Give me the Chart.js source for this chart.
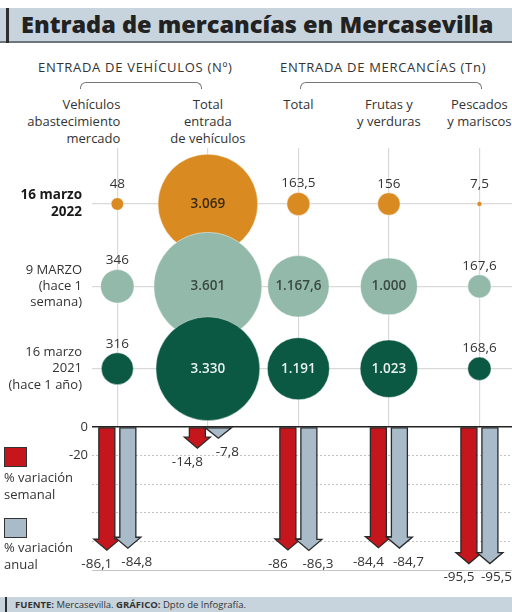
<!DOCTYPE html>
<html>
<head>
<meta charset="utf-8">
<script src="https://cdn.jsdelivr.net/npm/chart.js@4.4.1/dist/chart.umd.min.js"></script>
<style>
  body { margin: 0; background: #fff; font-family: "Open Sans", sans-serif; color: #333; }
  #page { position: relative; width: 512px; height: 612px; overflow: hidden; background: #fff; }
  .band { position: absolute; left: 0; width: 512px; background: #c8d4dd; }
  .bandbar { position: absolute; background: #2e2e2e; }
  #title { top: 8px; height: 33px; border-bottom: 2px solid #6f767b; }
  #title span { position: absolute; left: 21px; top: 0; line-height: 33px; font-size: 23.5px; font-weight: 800; color: #222; white-space: nowrap; }
  .sub { position: absolute; top: 58px; font-size: 13px; white-space: nowrap; letter-spacing: 0.7px; }
  .bracket { position: absolute; top: 82px; height: 6px; border: 1px solid #777; border-bottom: none; border-radius: 6px 6px 0 0; }
  .colhead { position: absolute; top: 96px; font-size: 13px; line-height: 17px; white-space: nowrap; }
  .chartbox { position: absolute; left: 0; }
  .leg-sq { position: absolute; left: 4px; width: 23px; height: 20px; border: 1.5px solid #333; box-sizing: border-box; }
  .leg-tx { position: absolute; left: 4px; font-size: 13px; line-height: 17px; white-space: nowrap; }
  #foot { top: 597px; height: 15px; }
  #foot span { position: absolute; left: 15px; top: 0; line-height: 15px; font-size: 9.5px; color: #333; white-space: nowrap; }
</style>
</head>
<body>
<div id="page">
  <div class="band" id="title"><span>Entrada de mercancías en Mercasevilla</span></div>
  <div class="bandbar" style="left:6px;top:8px;width:3px;height:35px"></div>

  <div class="sub" id="subVeh"></div>
  <div class="sub" id="subMer"></div>
  <div class="bracket" style="left:80px;width:120px"></div>
  <div class="bracket" style="left:300px;width:180px"></div>

  <div class="chartbox" style="top:148px"><canvas id="bubbles" width="512" height="280"></canvas></div>
  <div class="chartbox" style="top:415px"><canvas id="bars" width="512" height="185"></canvas></div>

  <div class="leg-sq" id="sq0" style="top:447px"></div>
  <div class="leg-tx" id="tx0" style="top:469px"></div>
  <div class="leg-sq" id="sq1" style="top:518px"></div>
  <div class="leg-tx" id="tx1" style="top:539px"></div>

  <div class="band" id="foot"><span><b>FUENTE:</b> Mercasevilla. <b>GRÁFICO:</b> Dpto de Infografía.</span></div>
  <div class="bandbar" style="left:5px;top:597px;width:2px;height:15px"></div>
</div>

<script>
// groups and categories
const groups = ['ENTRADA DE VEHÍCULOS (Nº)', 'ENTRADA DE MERCANCÍAS (Tn)'];
const columns = [
  ['Vehículos', 'abastecimiento', 'mercado'],
  ['Total', 'entrada', 'de vehículos'],
  ['Total'],
  ['Frutas y', 'y verduras'],
  ['Pescados', 'y mariscos']
];
const rows = [
  ['16 marzo', '2022'],
  ['9 MARZO', '(hace 1', 'semana)'],
  ['16 marzo', '2021', '(hace 1 año)']
];

// values per row
const mar2022 = [48, 3069, 163.5, 156, 7.5];
const mar2022wk = [346, 3601, 1167.6, 1000, 167.6];
const mar2021 = [316, 3330, 1191, 1023, 168.6];

// % variation
const seriesNames = ['% variación semanal', '% variación anual'];
const varSemanal = [-86.1, -14.8, -86, -84.4, -95.5];
const varAnual = [-84.8, -7.8, -86.3, -84.7, -95.5];
const varTicks = [0, -20, -40, -60, -80, -100];
const varLabelled = [0, -20];

const rowColors = ['#d98b22', '#92b9aa', '#0b5843'];
const rowTextColors = ['#3a2a12', '#3b4944', '#e9f1ed'];
const arrowColors = ['#c5161d', '#a9bac8'];

const xMin = -0.28, xMax = 4.36;
const axisW = 92;

function fmt(v) {
    const [i, d] = String(Math.abs(v)).split('.');
    const s = i.replace(/\B(?=(\d{3})+(?!\d))/g, '.');
    return (v < 0 ? '-' : '') + s + (d ? ',' + d : '');
}

document.getElementById('subVeh').textContent = groups[0];
document.getElementById('subMer').textContent = groups[1];
document.getElementById('subVeh').style.left = '38px';
document.getElementById('subMer').style.left = '280px';

[0, 1].forEach(i => {
    document.getElementById('sq' + i).style.background = arrowColors[i];
    document.getElementById('tx' + i).innerHTML = seriesNames[i].replace(/ (\S+)$/, '<br>$1');
});

const bubbleLabels = {
    id: 'bubbleLabels',
    afterDatasetsDraw(chart) {
        const ctx = chart.ctx;
        chart.data.datasets.forEach((ds, di) => {
            chart.getDatasetMeta(di).data.forEach((el, i) => {
                const r = el.options.radius;
                const v = ds.data[i].v;
                ctx.save();
                ctx.textAlign = 'center';
                ctx.textBaseline = 'middle';
                if (r > 20) {
                    ctx.font = '600 13.5px "Open Sans"';
                    ctx.fillStyle = ds.textColor;
                    ctx.fillText(fmt(v), el.x, el.y);
                } else {
                    ctx.font = '13.5px "Open Sans"';
                    ctx.fillStyle = '#333';
                    ctx.fillText(fmt(v), el.x, el.y - Math.max(r + 9, 20));
                }
                ctx.restore();
            });
        });
    }
};

const rowData = [mar2022, mar2022wk, mar2021];
const bubbleChart = new Chart(document.getElementById('bubbles'), {
    type: 'bubble',
    data: {
        datasets: rowData.map((vals, ri) => ({
            label: rows[ri].join(' '),
            data: vals.map((v, i) => ({ x: i, y: ri, v })),
            backgroundColor: rowColors[ri],
            borderColor: 'rgba(255,255,255,0.45)',
            borderWidth: 1,
            textColor: rowTextColors[ri],
            order: 3 - ri,
            clip: false,
            radius: c => 0.9 * Math.sqrt(c.raw.v)
        }))
    },
    options: {
        responsive: false,
        animation: false,
        events: [],
        layout: { padding: 0, autoPadding: false },
        plugins: { legend: { display: false }, tooltip: { enabled: false } },
        scales: {
            x: {
                type: 'linear', min: xMin, max: xMax, offset: false,
                afterBuildTicks: s => { s.ticks = columns.map((c, i) => ({ value: i })); },
                ticks: { display: false },
                grid: { color: '#d9d9d9', lineWidth: 1.2, drawTicks: false },
                border: { display: false }
            },
            y: {
                type: 'linear', min: -0.68, max: 2.72, reverse: true, offset: false,
                afterBuildTicks: s => { s.ticks = rows.map((r, i) => ({ value: i })); },
                afterFit: s => { s.width = axisW; s.paddingTop = 0; s.paddingBottom = 0; },
                ticks: {
                    callback: v => rows[v],
                    padding: 10,
                    color: c => c.index === 0 ? '#1a1a1a' : '#333',
                    font: c => ({ family: 'Open Sans', size: c.index === 0 ? 13.5 : 13, weight: c.index === 0 ? 'bold' : 'normal', lineHeight: 1.25 })
                },
                grid: { color: '#d9d9d9', lineWidth: 1.2, drawTicks: false },
                border: { display: false }
            }
        }
    },
    plugins: [bubbleLabels]
});

// column headers placed on the bubble x scale
const xs = bubbleChart.scales.x;
const page = document.getElementById('page');
columns.forEach((lines, i) => {
    const d = document.createElement('div');
    d.className = 'colhead';
    d.innerHTML = lines.join('<br>');
    const px = xs.getPixelForValue(i);
    if (i === 0) {
        d.style.right = (512 - px - 3) + 'px';
        d.style.textAlign = 'right';
    } else {
        d.style.left = (px - 60) + 'px';
        d.style.width = '120px';
        d.style.textAlign = 'center';
    }
    page.appendChild(d);
});

const arrows = {
    id: 'arrows',
    beforeDatasetDraw() { return false; },
    afterDatasetsDraw(chart) {
        const ctx = chart.ctx;
        chart.data.datasets.forEach((ds, di) => {
            chart.getDatasetMeta(di).data.forEach((el, i) => {
                const len = el.y - el.base;
                const bw = 8, hw = 13;
                const hl = Math.min(11, len);
                const neck = el.y - hl;
                ctx.save();
                ctx.beginPath();
                ctx.moveTo(el.x - bw, el.base);
                ctx.lineTo(el.x + bw, el.base);
                ctx.lineTo(el.x + bw, neck);
                ctx.lineTo(el.x + hw, neck);
                ctx.lineTo(el.x, el.y);
                ctx.lineTo(el.x - hw, neck);
                ctx.lineTo(el.x - bw, neck);
                ctx.closePath();
                ctx.fillStyle = ds.backgroundColor;
                ctx.fill();
                ctx.lineWidth = 1.3;
                ctx.strokeStyle = '#2a2a2a';
                ctx.stroke();

                ctx.font = '13.5px "Open Sans"';
                ctx.fillStyle = '#333';
                ctx.textAlign = 'center';
                ctx.textBaseline = 'middle';
                const txt = fmt(ds.data[i].y);
                const half = ctx.measureText(txt).width / 2;
                let lx = el.x + (di === 0 ? -10 : 9);
                lx = Math.min(lx, chart.width - half);
                ctx.fillText(txt, lx, el.y + 14);
                ctx.restore();
            });
        });
    }
};

new Chart(document.getElementById('bars'), {
    type: 'bar',
    data: {
        datasets: [varSemanal, varAnual].map((vals, di) => ({
            label: seriesNames[di],
            data: vals.map((v, i) => ({ x: i, y: v })),
            backgroundColor: arrowColors[di],
            barThickness: 21
        }))
    },
    options: {
        responsive: false,
        animation: false,
        events: [],
        layout: { padding: { top: 12, bottom: 30 }, autoPadding: false },
        plugins: { legend: { display: false }, tooltip: { enabled: false } },
        scales: {
            x: { type: 'linear', min: xMin, max: xMax, offset: false, display: false },
            y: {
                min: -100, max: 0,
                afterBuildTicks: s => { s.ticks = varTicks.map(value => ({ value })); },
                afterFit: s => { s.width = axisW; },
                ticks: {
                    callback: v => varLabelled.includes(v) ? String(v) : '',
                    padding: 4,
                    color: '#333',
                    font: { family: 'Open Sans', size: 13 }
                },
                grid: {
                    drawTicks: false,
                    color: c => c.tick.value === 0 ? '#222' : '#c4c4c4',
                    lineWidth: c => c.tick.value === 0 ? 1.6 : 1
                },
                border: {
                    display: false,
                    dash: c => (c.tick && c.tick.value < 0 && c.tick.value > -100) ? [2, 2] : []
                }
            }
        }
    },
    plugins: [arrows]
});
</script>
</body>
</html>
